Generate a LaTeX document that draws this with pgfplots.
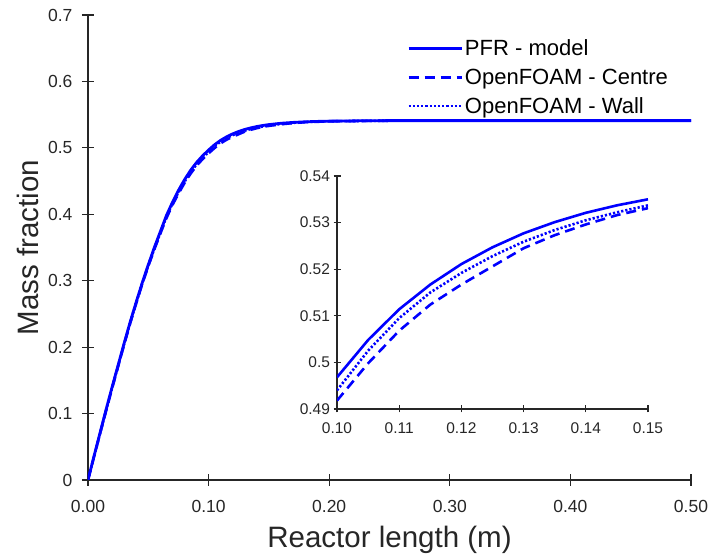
\documentclass[border=0pt]{standalone}
\usepackage{pgfplots}
\usepackage{pgfplotstable}
\pgfplotsset{compat=1.18}
\usepackage{fontspec}
\setmainfont{Liberation Sans}
\definecolor{axgray}{HTML}{262626}
\definecolor{pblue}{RGB}{0,0,255}

\pgfplotstableread{
x y
0 0
0.005 0.036
0.01 0.071
0.015 0.106
0.02 0.140
0.025 0.173
0.03 0.206
0.035 0.238
0.04 0.268
0.045 0.297
0.05 0.324
0.055 0.350
0.06 0.374
0.065 0.398
0.07 0.418
0.075 0.436
0.08 0.452
0.085 0.466
0.09 0.478
0.095 0.488
0.10 0.4968
0.105 0.5048
0.11 0.5114
0.115 0.5167
0.12 0.5211
0.125 0.5247
0.13 0.5277
0.135 0.5301
0.14 0.5321
0.145 0.5337
0.15 0.5350
0.16 0.5370
0.17 0.5383
0.18 0.5392
0.19 0.5398
0.20 0.5402
0.22 0.5406
0.25 0.5410
0.30 0.5410
0.50 0.5410
}\pfr

\pgfplotstableread{
x y
0 0
0.005 0.035
0.01 0.070
0.015 0.105
0.02 0.139
0.025 0.172
0.03 0.205
0.035 0.237
0.04 0.267
0.045 0.296
0.05 0.323
0.055 0.348
0.06 0.372
0.065 0.396
0.07 0.416
0.075 0.433
0.08 0.449
0.085 0.463
0.09 0.475
0.095 0.485
0.10 0.4940
0.105 0.5025
0.11 0.5095
0.115 0.5150
0.12 0.5192
0.125 0.5228
0.13 0.5259
0.135 0.5284
0.14 0.5305
0.145 0.5322
0.15 0.5337
0.16 0.5360
0.17 0.5377
0.18 0.5389
0.20 0.5401
0.25 0.5409
0.50 0.5410
}\wall

\pgfplotstableread{
x y
0 0
0.005 0.035
0.01 0.070
0.015 0.104
0.02 0.138
0.025 0.171
0.03 0.204
0.035 0.236
0.04 0.266
0.045 0.295
0.05 0.322
0.055 0.347
0.06 0.371
0.065 0.394
0.07 0.414
0.075 0.431
0.08 0.447
0.085 0.461
0.09 0.473
0.095 0.483
0.10 0.4918
0.105 0.4998
0.11 0.5068
0.115 0.5124
0.12 0.5167
0.125 0.5206
0.13 0.5245
0.135 0.5273
0.14 0.5296
0.145 0.5316
0.15 0.5331
0.16 0.5355
0.17 0.5373
0.18 0.5386
0.20 0.5399
0.25 0.5409
0.50 0.5410
}\centre

\pgfplotstableread{
x y
0.10 0.4968
0.105 0.5048
0.11 0.5114
0.115 0.5167
0.12 0.5211
0.125 0.5247
0.13 0.5277
0.135 0.5301
0.14 0.5321
0.145 0.5337
0.15 0.5350
}\pfrin

\pgfplotstableread{
x y
0.10 0.4940
0.105 0.5025
0.11 0.5095
0.115 0.5150
0.12 0.5192
0.125 0.5228
0.13 0.5259
0.135 0.5284
0.14 0.5305
0.145 0.5322
0.15 0.5337
}\wallin

\pgfplotstableread{
x y
0.10 0.4918
0.105 0.4998
0.11 0.5068
0.115 0.5124
0.12 0.5167
0.125 0.5206
0.13 0.5245
0.135 0.5273
0.14 0.5296
0.145 0.5316
0.15 0.5331
}\centrein

\begin{document}
\begin{tikzpicture}
\useasboundingbox (-88pt,-76pt) rectangle (622pt,480pt);
\begin{axis}[
  at={(0pt,0pt)}, anchor=south west,
  scale only axis, width=603pt, height=465pt,
  xmin=0, xmax=0.5, ymin=0, ymax=0.7,
  axis lines=left,
  axis line style={-, line width=1.2pt, color=axgray},
  tick align=center, major tick length=12pt,
  tick style={line width=1.2pt, color=axgray},
  xtick={0,0.1,0.2,0.3,0.4,0.5},
  ytick={0,0.1,0.2,0.3,0.4,0.5,0.6,0.7},
  xticklabel style={yshift=-11pt, /pgf/number format/.cd, fixed, fixed zerofill, precision=2},
  yticklabel style={xshift=-6pt, /pgf/number format/.cd, fixed},
  /pgf/number format/assume math mode=true,
  tick label style={font=\fontsize{17.5}{20}\selectfont, text=axgray},
  xlabel={Reactor length (m)}, ylabel={Mass fraction},
  label style={font=\fontsize{29.5}{34}\selectfont, text=axgray},
  xlabel style={at={(axis description cs:0.5,-0.1462)}, anchor=base},
  ylabel style={at={(axis description cs:-0.0829,0.5)}, anchor=base, rotate=0},
  legend style={at={(axis description cs:0.529,0.951)}, anchor=north west,
    draw=none, fill=none, font=\fontsize{22}{26}\selectfont, text=black,
    row sep=7.5pt, inner sep=0pt},
  legend cell align=left,
  legend image code/.code={\draw[#1] (0pt,0pt) -- (53pt,0pt);},
]
\addplot[pblue, line width=2.8pt] table[x=x,y=y] {\pfr};
\addlegendentry{PFR - model}
\addplot[pblue, line width=2.6pt, dash pattern=on 10pt off 6pt] table[x=x,y=y] {\centre};
\addlegendentry{OpenFOAM - Centre}
\addplot[pblue, line width=2.6pt, dash pattern=on 2.2pt off 2pt] table[x=x,y=y] {\wall};
\addlegendentry{OpenFOAM - Wall}
\end{axis}

\begin{axis}[
  at={(249pt,71pt)}, anchor=south west,
  scale only axis, width=311pt, height=233pt,
  xmin=0.1, xmax=0.15, ymin=0.49, ymax=0.54,
  axis lines=left,
  axis line style={-, line width=1.2pt, color=axgray},
  tick align=center, major tick length=7pt,
  tick style={line width=1.2pt, color=axgray},
  xtick={0.1,0.11,0.12,0.13,0.14,0.15},
  ytick={0.49,0.5,0.51,0.52,0.53,0.54},
  xticklabel style={yshift=-7pt, /pgf/number format/.cd, fixed, fixed zerofill, precision=2},
  yticklabel style={/pgf/number format/.cd, fixed},
  /pgf/number format/assume math mode=true,
  tick label style={font=\fontsize{15.5}{18}\selectfont, text=axgray},
]
\addplot[pblue, line width=2.6pt] table[x=x,y=y] {\pfrin};
\addplot[pblue, line width=2.6pt, dash pattern=on 10pt off 6pt] table[x=x,y=y] {\centrein};
\addplot[pblue, line width=2.6pt, dash pattern=on 2.2pt off 2pt] table[x=x,y=y] {\wallin};
\end{axis}
\end{tikzpicture}
\end{document}
